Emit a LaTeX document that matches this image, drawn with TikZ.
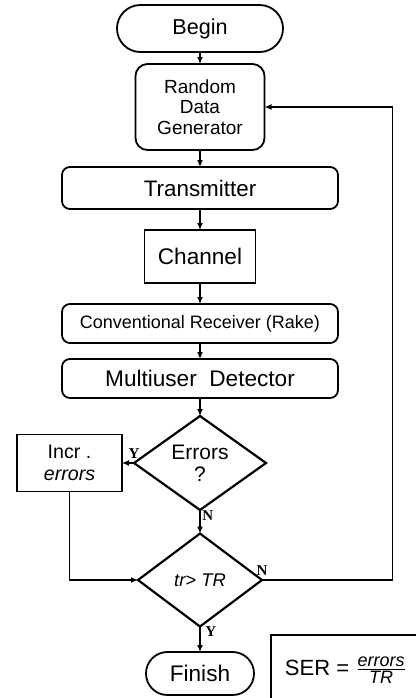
\documentclass[tikz,border=0pt]{standalone}
\usepackage{fontspec}
\setmainfont{Liberation Sans}
\newfontfamily\ynfont{Liberation Serif}
\usepackage{tikz}
\usetikzlibrary{arrows.meta, positioning, shapes.geometric}

\begin{document}
\begin{tikzpicture}[
  node distance=6pt,
  base/.style={draw, line width=0.9pt, inner sep=0pt, outer sep=0pt, align=center},
  pill/.style={base, rounded corners=#1},
  rbox/.style={base, rounded corners=4pt},
  sbox/.style={base},
  decide/.style={base, diamond, line width=1.1pt},
  arr/.style={-{Latex[length=3.5pt,width=3pt]}, line width=0.6pt},
  yn/.style={font=\ynfont\bfseries\fontsize{7.5}{8}\selectfont, inner sep=0pt},
]
  \useasboundingbox (0,0) rectangle (208pt,-349pt);

  \node[pill=11.7pt, minimum width=83pt, minimum height=23.5pt,
    font=\fontsize{10.8}{12}\selectfont] (begin) at (100pt,-14.25pt) {Begin};
  \node[rbox, rounded corners=6pt, minimum width=64.5pt, minimum height=43pt,
    font=\fontsize{9.5}{10.2}\selectfont, below=6pt of begin] (gen) {Random\\Data\\Generator};
  \node[rbox, minimum width=138pt, minimum height=21pt,
    font=\fontsize{11.2}{12}\selectfont, below=8.5pt of gen] (tx) {Transmitter};
  \node[sbox, minimum width=55.5pt, minimum height=26.5pt,
    font=\fontsize{11.3}{12}\selectfont, below=10.5pt of tx] (ch) {Channel};
  \node[rbox, minimum width=138pt, minimum height=19.5pt,
    font=\fontsize{9}{10}\selectfont, below=10.5pt of ch] (rx) {Conventional Receiver (Rake)};
  \node[rbox, minimum width=138pt, minimum height=19.5pt,
    font=\fontsize{11.3}{12}\selectfont, below=8pt of rx] (mud) {Multiuser\ \ Detector};
  \node[decide, minimum width=66pt, minimum height=47pt,
    font=\fontsize{10.5}{11}\selectfont, below=9pt of mud] (err) {Errors\\?};
  \node[sbox, minimum width=52.5pt, minimum height=28.5pt,
    font=\fontsize{9.8}{11.3}\selectfont, left=6pt of err] (incr) {Incr .\\\textit{errors}};
  \node[decide, minimum width=62pt, minimum height=46.5pt,
    font=\fontsize{9.2}{10}\selectfont\itshape, below=11.75pt of err] (tr) {tr> TR};
  \node[pill=10.7pt, minimum width=54pt, minimum height=21.5pt,
    font=\fontsize{11.3}{12}\selectfont, below=12.75pt of tr] (fin) {Finish};
  \node[sbox, minimum width=75pt, minimum height=35pt, anchor=north west,
    font=\fontsize{11}{12}\selectfont]
    (ser) at ([xshift=8.5pt,yshift=8.5pt]fin.north east)
    {SER = \(\frac{\mbox{\fontsize{9}{10}\selectfont\itshape errors}}{\mbox{\fontsize{9}{10}\selectfont\itshape TR}}\)};

  % loop back to the generator
  \coordinate (fb) at ([xshift=64pt]gen.east);

  \draw[arr] (begin) -- (gen);
  \draw[arr] (gen) -- (tx);
  \draw[arr] (tx) -- (ch);
  \draw[arr] (ch) -- (rx);
  \draw[arr] (rx) -- (mud);
  \draw[arr] (mud) -- (err);
  \draw[arr] (err.west) -- (incr.east);
  \draw[arr] (err.south) -- (tr.north);
  \draw[arr] (incr.south) |- (tr.west);
  \draw[arr] (tr.east) -| (fb) -- (gen.east);
  \draw[arr] (tr.south) -- (fin.north);

  \node[yn, above=2pt of err.west] (ly1) {Y};
  \node[yn, anchor=north west] (ln1) at ([xshift=1pt]err.south) {N};
  \node[yn, above=2pt of tr.east] (ln2) {N};
  \node[yn, anchor=north west] (ly2) at ([xshift=2.5pt]tr.south) {Y};
\end{tikzpicture}
\end{document}
